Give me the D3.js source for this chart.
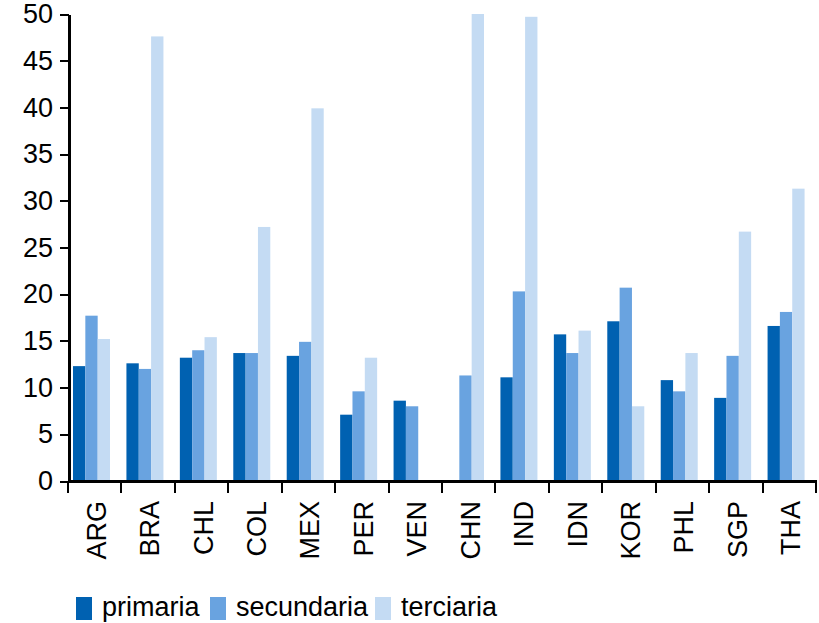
<!DOCTYPE html>
<html>
  <head>
    <title>Tasas por nivel educativo</title>
    <meta http-equiv="Content-Type" content="text/html; charset=utf-8">
    <style type="text/css">
      body {
        margin: 0;
        background: #fff;
      }
      text {
        font-family: "Liberation Sans", Arial, sans-serif;
        fill: #000;
      }
      .axis path,
      .axis line {
        fill: none;
        stroke: #000;
        shape-rendering: crispEdges;
      }
    </style>
  </head>

  <body>
    <div id="main"></div>

    <script src="https://d3js.org/d3.v7.min.js"></script>
    <script>
    // Data
    var countries = ["ARG", "BRA", "CHL", "COL", "MEX", "PER", "VEN",
                     "CHN", "IND", "IDN", "KOR", "PHL", "SGP", "THA"];
    var seriesNames = ["primaria", "secundaria", "terciaria"];
    var primaria   = [12.3, 12.6, 13.2, 13.7, 13.4, 7.1, 8.6, null, 11.1, 15.7, 17.1, 10.8, 8.9, 16.6];
    var secundaria = [17.7, 12.0, 14.0, 13.7, 14.9, 9.6, 8.0, 11.3, 20.3, 13.7, 20.7, 9.6, 13.4, 18.1];
    var terciaria  = [15.2, 47.6, 15.4, 27.2, 39.9, 13.2, null, 50.0, 49.7, 16.1, 8.0, 13.7, 26.7, 31.3];
    var yTicks = [0, 5, 10, 15, 20, 25, 30, 35, 40, 45, 50];
    var colors = ["#0061b1", "#69a3e0", "#c4dbf3"];

    document.addEventListener("DOMContentLoaded", init);
    function init() {
      var width = 819,
          height = 623,
          fontSize = "27px";

      var values = [primaria, secundaria, terciaria];
      var rows = [];
      countries.forEach(function(c, i) {
        seriesNames.forEach(function(s, j) {
          rows.push({country: c, series: s, value: values[j][i]});
        });
      });

      var svg = d3.select("#main")
        .append("svg")
          .attr("width", width)
          .attr("height", height);

      // Scales
      var x0 = d3.scaleBand().domain(countries).range([68, 816]);
      var x1 = d3.scaleBand().domain(seriesNames).range([5, 42]);
      var y = d3.scaleLinear().domain([0, 50]).range([481, 14]);
      var color = d3.scaleOrdinal().domain(seriesNames).range(colors);

      // Bars
      svg.append("g")
        .selectAll("rect")
        .data(rows.filter(function(d) { return d.value != null; }))
        .enter().append("rect")
          .attr("x", function(d) { return x0(d.country) + x1(d.series); })
          .attr("y", function(d) { return y(d.value); })
          .attr("width", x1.bandwidth())
          .attr("height", function(d) { return y(0) - y(d.value); })
          .attr("fill", function(d) { return color(d.series); });

      // Y axis
      var yAxis = svg.append("g")
          .attr("class", "axis")
          .attr("transform", "translate(69,0)")
          .call(d3.axisLeft(y).tickValues(yTicks).tickSize(9).tickPadding(7).tickSizeOuter(0));
      yAxis.select(".domain").attr("stroke-width", 3);
      yAxis.selectAll(".tick line").attr("stroke-width", 2);
      yAxis.selectAll("text").style("font-size", fontSize);

      // X axis, ticks between the groups
      var edges = countries.map(function(c) { return x0(c); }).concat([x0.range()[1]]);
      var xAxis = svg.append("g")
          .attr("class", "axis")
          .attr("transform", "translate(0,481)");
      xAxis.append("line")
          .attr("x1", 68).attr("x2", 817)
          .attr("stroke-width", 3);
      xAxis.selectAll(".edge")
        .data(edges)
        .enter().append("line")
          .attr("class", "edge")
          .attr("x1", function(d) { return d; })
          .attr("x2", function(d) { return d; })
          .attr("y1", 0).attr("y2", 12)
          .attr("stroke-width", 2);
      xAxis.selectAll(".label")
        .data(countries)
        .enter().append("text")
          .attr("class", "label")
          .attr("transform", function(d) {
            return "translate(" + (x0(d) + x0.bandwidth() / 2 + 11) + ",20) rotate(-90)";
          })
          .attr("text-anchor", "end")
          .style("font-size", fontSize)
          .text(function(d) { return d; });

      // Legend
      var legendX = [76, 210, 375];
      var legend = svg.append("g").selectAll("g")
        .data(seriesNames)
        .enter().append("g")
          .attr("transform", function(d, i) { return "translate(" + legendX[i] + ",597)"; });
      legend.append("rect")
          .attr("width", 16)
          .attr("height", 23)
          .attr("fill", function(d) { return color(d); });
      legend.append("text")
          .attr("x", 26)
          .attr("y", 19)
          .style("font-size", fontSize)
          .text(function(d) { return d; });
    }
    </script>
  </body>
</html>
